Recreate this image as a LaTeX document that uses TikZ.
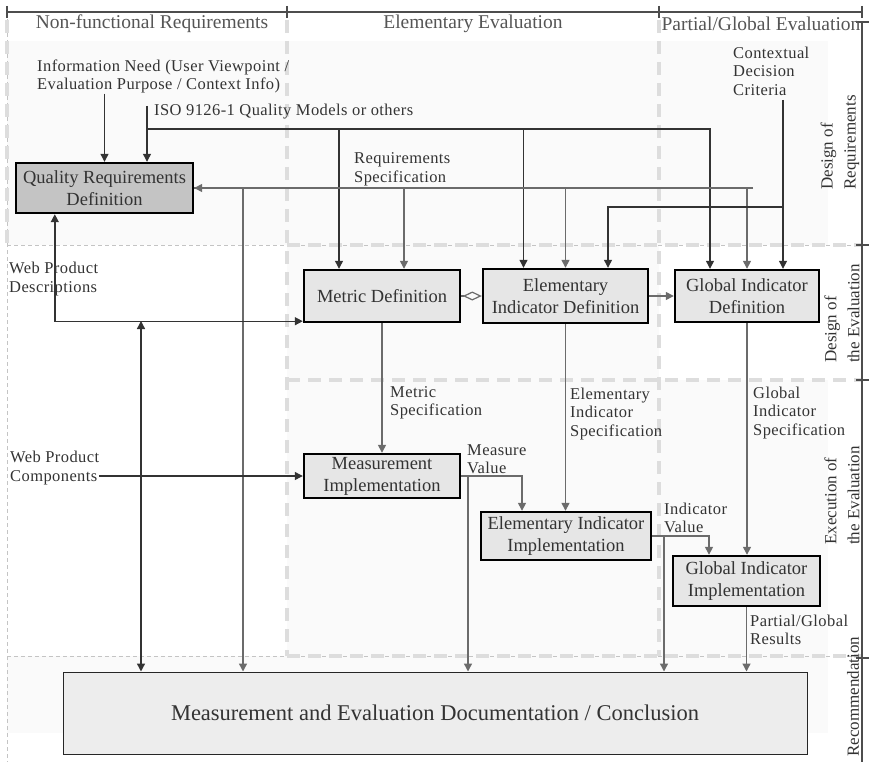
\documentclass[tikz,border=0pt]{standalone}
\usepackage{fontspec}
\setmainfont{Liberation Serif}
\newfontfamily\lblfont[LetterSpace=2.5]{Liberation Serif}
\usepackage{tikz}
\usetikzlibrary{arrows.meta,positioning,calc}
\definecolor{pbox}{HTML}{E6E6E6}
\definecolor{pboxd}{HTML}{C4C4C4}
\definecolor{pdoc}{HTML}{EDEDED}
\definecolor{pzone}{HTML}{FAFAFA}
\definecolor{psep}{HTML}{DDDDDD}
\definecolor{pthin}{HTML}{C4C4C4}
\definecolor{ptext}{HTML}{333333}
\definecolor{phead}{HTML}{555555}
\definecolor{pline}{HTML}{333333}
\definecolor{pgline}{HTML}{6B6B6B}
\definecolor{pbar}{HTML}{4D4D4D}
\tikzset{
  % grey process box with a heavy black frame
  proc/.style    = {rectangle, draw=black, fill=#1, line width=2.4pt, align=center,
                    inner sep=0pt, text=ptext, font=\fontsize{18.5}{22}\selectfont},
  proc/.default  = pbox,
  docbox/.style  = {rectangle, draw=black!85, fill=pdoc, line width=1pt, inner sep=0pt,
                    text=ptext, font=\fontsize{22.5}{25}\selectfont},
  lbl/.style     = {anchor=west, align=left, inner sep=0pt, text=ptext,
                    font=\lblfont\fontsize{16.5}{18.5}\selectfont},
  hdr/.style     = {text=phead, font=\fontsize{19.5}{22}\selectfont},
  side/.style    = {rotate=90, anchor=west, align=left, inner sep=0pt, text=ptext,
                    font=\fontsize{17}{23}\selectfont},
  darr/.style    = {-{Triangle[length=8pt,width=8pt]}, pline, line width=1.2pt},
  dboth/.style   = {{Triangle[length=8pt,width=8pt]}-{Triangle[length=8pt,width=8pt]},
                    pline, line width=1.4pt},
  garr/.style    = {-{Triangle[length=8pt,width=8pt]}, pgline, line width=1.4pt},
  zone/.style    = {fill=pzone},
  sepline/.style = {psep, line width=3.5pt, dash pattern=on 13pt off 8pt},
  thinsep/.style = {pthin, line width=0.8pt, dash pattern=on 4pt off 3pt},
  bar/.style     = {pbar, line width=2.6pt},
}

\begin{document}
\begin{tikzpicture}[x=1pt,y=-1pt]
\useasboundingbox (0,0) rectangle (869,762);
% zones
\fill[zone] (7,41) rectangle (828,245);
\fill[zone] (287,245) rectangle (659,380);
\fill[zone] (287,380) rectangle (828,656);
\fill[zone] (7,656) rectangle (828,733);
% separators
\draw[thinsep] (7,12) -- (7,762);
\draw[thinsep] (7,245) -- (862,245);
\draw[thinsep] (7,656) -- (862,656);
\draw[sepline] (7,20) -- (7,245);
\draw[sepline] (287,20) -- (287,656);
\draw[sepline] (659,20) -- (659,656);
\foreach \y in {245,380,656}
  \draw[sepline] (287,\y) -- (862,\y);
% header and side bar
\draw[bar] (7,12) -- (862,12);
\foreach \x in {7,287,659,862}
  \draw[bar] (\x,6) -- (\x,18);
\draw[bar] (862,22) -- (862,762);
\foreach \y in {22,245,380,658}
  \draw[bar] (856,\y) -- (869,\y);
\node[hdr] (hnf) at (152,24) {Non-functional Requirements};
\node[hdr] (hee) at (473,24) {Elementary Evaluation};
\node[hdr] (hpg) at (761,24) {Partial/Global Evaluation};
\node[side] (sreq) at (840,190) {Design of\\Requirements};
\node[side] (sdev) at (842,363) {Design of\\the Evaluation};
\node[side] (sexe) at (842,545) {Execution of\\the Evaluation};
\node[side] (srec) at (853,757) {Recommendation};
% boxes
\node[proc=pboxd, minimum width=177pt, minimum height=50pt] (qrd) at (104.5,188) {Quality Requirements\\Definition};
\node[proc, minimum width=156pt, minimum height=52pt] (md) at (382,296) {Metric Definition};
\node[proc, minimum width=165pt, minimum height=54pt] (eid) at (565.5,296) {Elementary\\Indicator Definition};
\node[proc, minimum width=144pt, minimum height=52pt] (gid) at (747,296) {Global Indicator\\Definition};
\node[proc, minimum width=156pt, minimum height=44pt] (mi) at (382,476) {Measurement\\Implementation};
\node[proc, minimum width=170pt, minimum height=48pt] (eii) at (566,536) {Elementary Indicator\\Implementation};
\node[proc, minimum width=147pt, minimum height=50pt] (gii) at (746.5,581) {Global Indicator\\Implementation};
\node[docbox, minimum width=744pt, minimum height=82pt] (doc) at (435,713) {Measurement and Evaluation Documentation / Conclusion};
% labels
\node[lbl] (need) at (37,76.5) {Information Need (User Viewpoint /\\Evaluation Purpose / Context Info)};
\node[lbl] (iso) at (154,112) {ISO 9126-1 Quality Models or others};
\node[lbl] (rspec) at (354,169.5) {Requirements\\Specification};
\node[lbl] (ctx) at (733,71) {Contextual\\Decision\\Criteria};
\node[lbl] (wpd) at (9,279) {Web Product\\Descriptions};
\node[lbl] (wpc) at (10,468) {Web Product\\Components};
\node[lbl] (mspec) at (390,403) {Metric\\Specification};
\node[lbl] (espec) at (570,414) {Elementary\\Indicator\\Specification};
\node[lbl] (gspec) at (753,413) {Global\\Indicator\\Specification};
\node[lbl] (mval) at (467,459) {Measure\\Value};
\node[lbl] (ival) at (664,518) {Indicator\\Value};
\node[lbl] (pres) at (750,630) {Partial/Global\\Results};
% information need and quality models
\draw[darr] (need.south -| qrd.north) -- (qrd.north);
\coordinate (isotop) at (147,106);
\coordinate (isobar) at (147,129);
\draw[darr] (isotop) -- (qrd.north -| isotop);
\draw[darr] (isobar) -| ([xshift=-43pt]md.north);
\draw[darr] (isobar) -| ([xshift=-42pt]eid.north);
\draw[darr] (isobar) -| ([xshift=-37pt]gid.north);
% requirements specification
\coordinate (rsend) at (753,188);
\draw[garr] (rsend) -- (qrd.east);
\draw[garr] (qrd.east) -| ([xshift=-192pt]doc.north);
\draw[garr] (qrd.east) -| ([xshift=22pt]md.north);
\draw[garr] (qrd.east) -| (eid.north);
\draw[garr] (qrd.east) -| (gid.north);
% contextual decision criteria
\coordinate (ctxtop) at (783,100);
\coordinate (ctxbar) at (783,207);
\draw[darr] (ctxtop) -- ([xshift=36pt]gid.north);
\draw[darr] (ctxbar) -| ([xshift=42.5pt]eid.north);
% web product inputs
\draw[dboth] ([xshift=40pt]qrd.south west) |- ([yshift=2pt]md.south west);
\coordinate (wpdx) at (141,321);
\draw[dboth] (wpdx) -- (wpdx |- doc.north);
\draw[darr] (wpc.east |- mi.west) -- (mi.west);
% definitions to implementations
\draw[pgline, line width=1.2pt, -{Diamond[open,length=19pt,width=9pt]}] (md.east) -- (eid.west);
\draw[garr] (eid.east) -- (gid.west);
\draw[garr] (md.south) -- (mi.north);
\draw[garr] (eid.south) -- (eid.south |- eii.north);
\draw[garr] (gid.south) -- (gid.south |- gii.north);
% values and results
\draw[garr] (mi.east) -| ([xshift=-44pt]eii.north);
\draw[garr] (mi.east) -| ([xshift=33pt]doc.north);
\draw[garr] (eii.east) -| ([xshift=-37.5pt]gii.north);
\draw[garr] (eii.east) -| ([xshift=229pt]doc.north);
\draw[garr] (gii.south) -- (gii.south |- doc.north);
\end{tikzpicture}
\end{document}
